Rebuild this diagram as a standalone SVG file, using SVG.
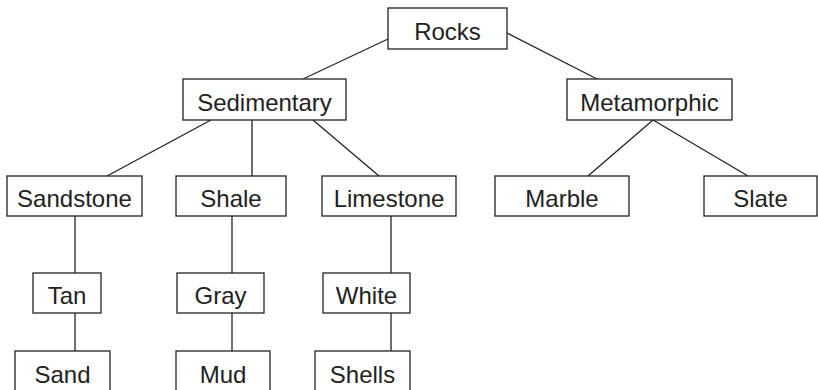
<svg xmlns="http://www.w3.org/2000/svg" width="818" height="390" viewBox="0 0 818 390">
<style>
.box{fill:#fff;stroke:#222;stroke-width:1.3}
.lbl{font-family:"Liberation Sans",Arial,sans-serif;font-size:24px;fill:#222;text-anchor:middle}
.edge line{stroke:#222;stroke-width:1.3}
</style>
<rect width="818" height="390" fill="#fff"/>
<g id="connectors" class="edge">
<line x1="388" y1="39" x2="303" y2="79"/>
<line x1="507" y1="33" x2="597" y2="79"/>
<line x1="211" y1="120" x2="107" y2="176"/>
<line x1="252" y1="120" x2="252" y2="176"/>
<line x1="313" y1="120" x2="379" y2="176"/>
<line x1="653" y1="120" x2="588" y2="176"/>
<line x1="653" y1="120" x2="748" y2="176"/>
<line x1="75" y1="216" x2="75" y2="273"/>
<line x1="75" y1="313" x2="75" y2="351"/>
<line x1="232" y1="216" x2="232" y2="273"/>
<line x1="232" y1="313" x2="232" y2="351"/>
<line x1="391" y1="216" x2="391" y2="273"/>
<line x1="391" y1="313" x2="391" y2="351"/>
</g>
<g id="rocks"><rect class="box" x="388" y="8" width="119" height="41"/><text class="lbl" x="447.5" y="39.5">Rocks</text></g>
<g id="sedimentary"><rect class="box" x="183" y="79" width="163" height="41"/><text class="lbl" x="264.5" y="111">Sedimentary</text></g>
<g id="metamorphic"><rect class="box" x="567" y="79" width="165" height="41"/><text class="lbl" x="649.5" y="111">Metamorphic</text></g>
<g id="sandstone"><rect class="box" x="7" y="176" width="135" height="40"/><text class="lbl" x="74.5" y="207">Sandstone</text></g>
<g id="shale"><rect class="box" x="176" y="176" width="110" height="40"/><text class="lbl" x="231" y="207">Shale</text></g>
<g id="limestone"><rect class="box" x="322" y="176" width="134" height="40"/><text class="lbl" x="389" y="207">Limestone</text></g>
<g id="marble"><rect class="box" x="495" y="176" width="134" height="40"/><text class="lbl" x="562" y="207">Marble</text></g>
<g id="slate"><rect class="box" x="704" y="176" width="113" height="40"/><text class="lbl" x="760.5" y="207">Slate</text></g>
<g id="tan"><rect class="box" x="33" y="273" width="68" height="40"/><text class="lbl" x="67" y="304">Tan</text></g>
<g id="gray"><rect class="box" x="177" y="273" width="87" height="40"/><text class="lbl" x="220.5" y="304">Gray</text></g>
<g id="white"><rect class="box" x="323" y="273" width="87" height="40"/><text class="lbl" x="366.5" y="304">White</text></g>
<g id="sand"><rect class="box" x="15" y="351" width="95" height="41"/><text class="lbl" x="62.5" y="383">Sand</text></g>
<g id="mud"><rect class="box" x="176" y="351" width="94" height="41"/><text class="lbl" x="223" y="383">Mud</text></g>
<g id="shells"><rect class="box" x="315" y="351" width="95" height="41"/><text class="lbl" x="362.5" y="383">Shells</text></g>
</svg>
